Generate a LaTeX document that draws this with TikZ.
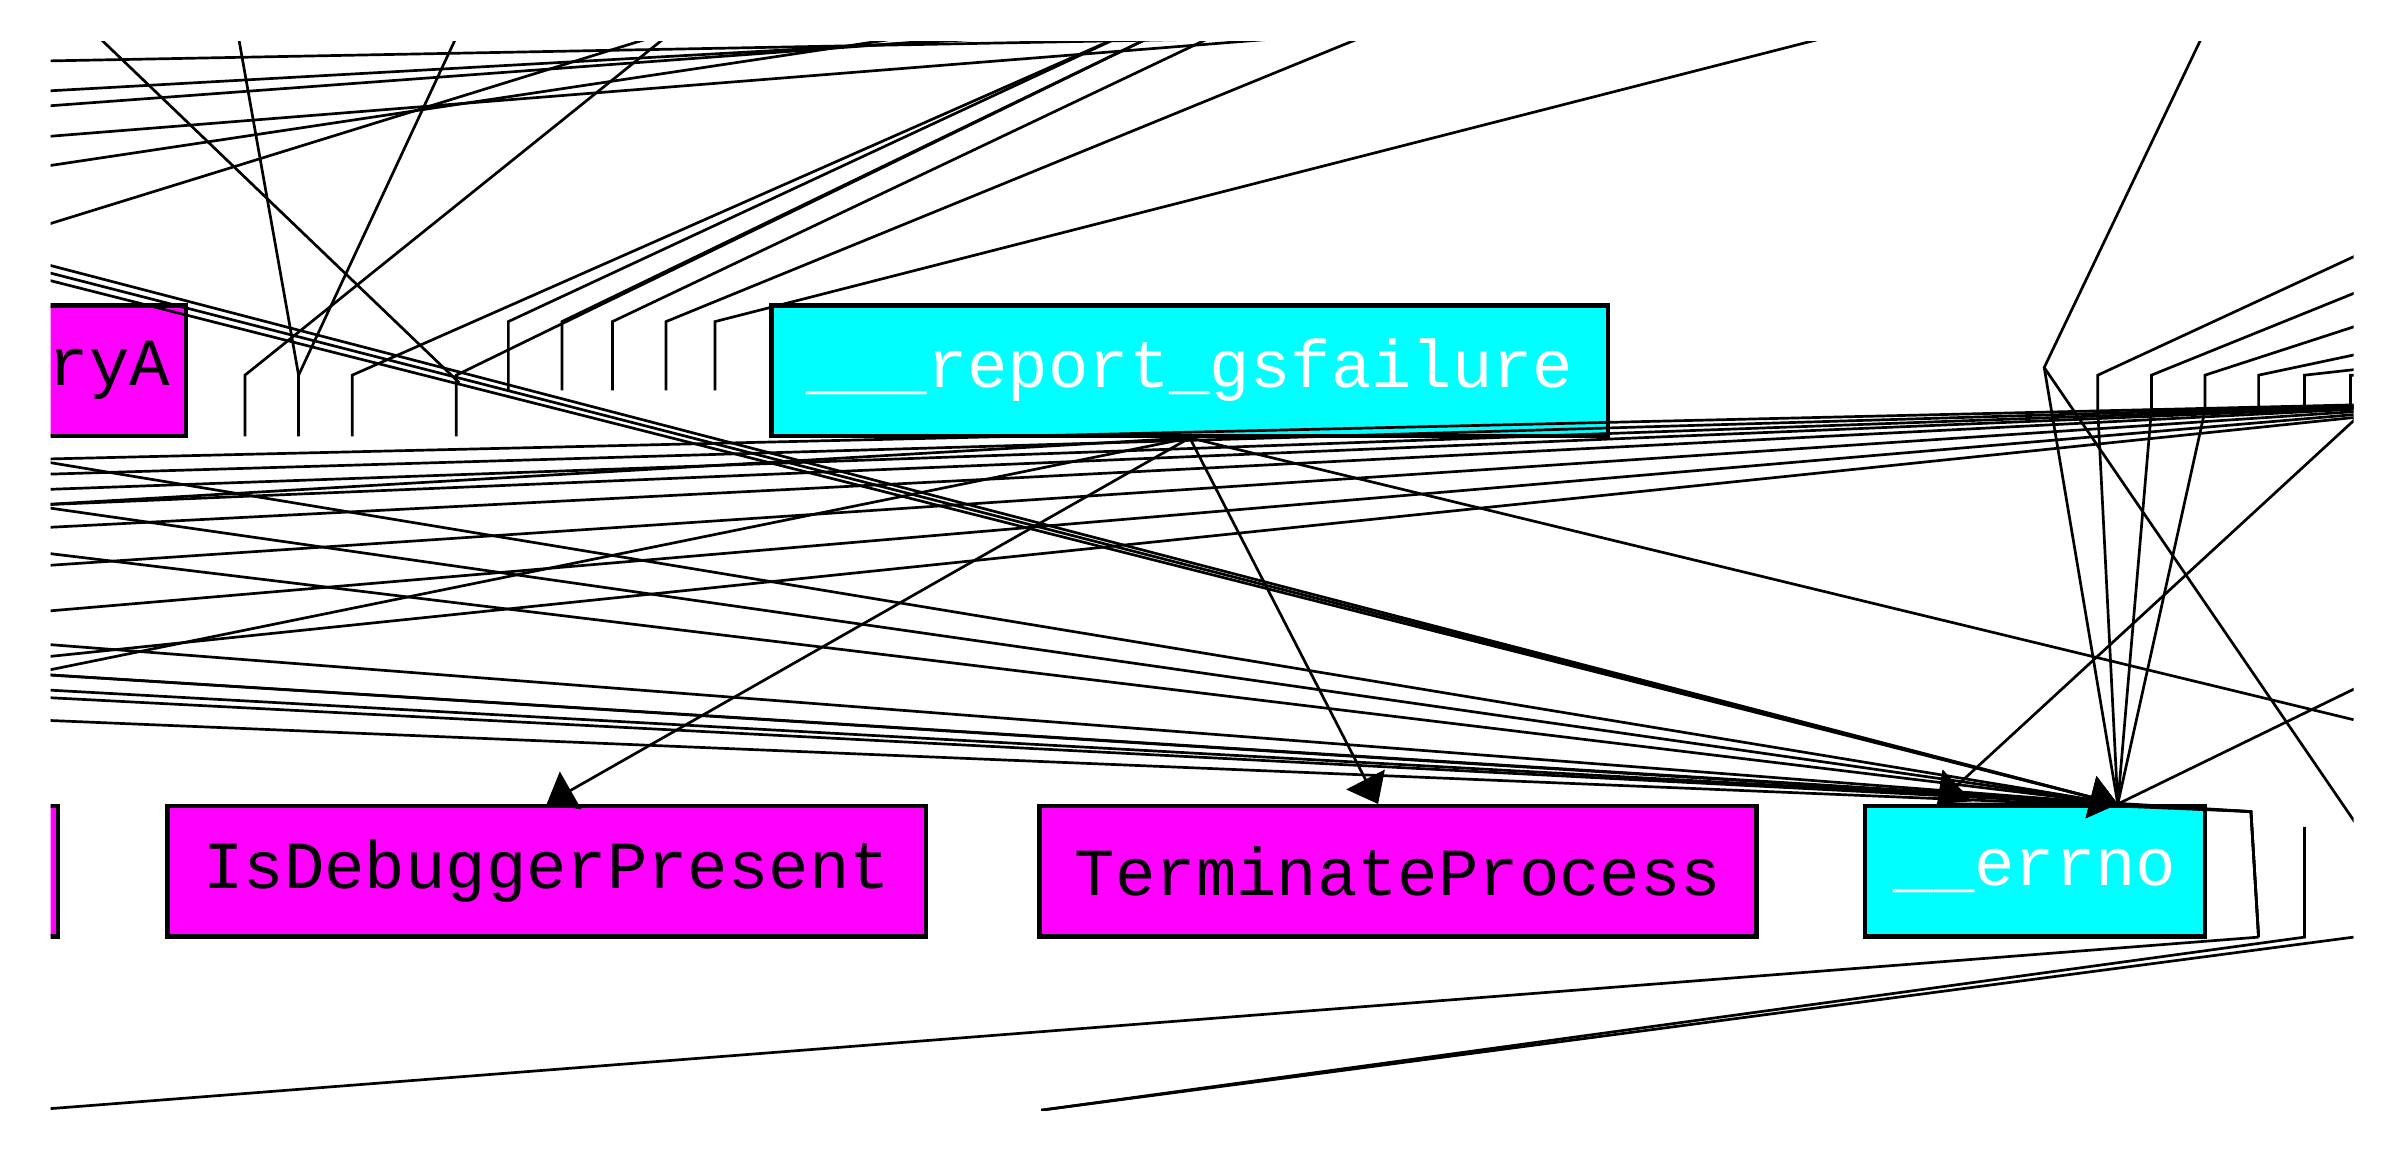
\documentclass[tikz,border=0pt]{standalone}
\usepackage{fontspec}
\newfontfamily\mono{Liberation Mono}
\usetikzlibrary{arrows.meta}
\usetikzlibrary{scopes}
\definecolor{extfill}{RGB}{255,0,255}
\definecolor{libfill}{RGB}{0,255,255}

\begin{document}
\begin{tikzpicture}[x=0.01cm,y=-0.01cm,
    fn/.style={draw=black,thick,rectangle,minimum height=0.85cm,inner sep=0pt,font=\mono\fontsize{12.5}{14}\selectfont},
    ext/.style={fn,fill=extfill},
    lib/.style={fn,fill=libfill,text=white},
    call/.style={-{Triangle[length=0.18cm,width=0.28cm]}},
    wire/.style={draw=black,line width=0.5pt}]
\useasboundingbox (0,0) rectangle (1568,763);
\begin{scope}
\clip (33,27) rectangle (1537,725);

% functions
\node[ext,minimum width=1.3cm,anchor=east] (loadlib) at (123,242) {\hspace{0.3cm}ryA};
\node[lib,minimum width=5.46cm] (gsfail) at (777,242) {\_\_\_report\_gsfailure};
\node[ext,minimum width=0.3cm] (prev) at (23,569) {};
\node[ext,minimum width=4.95cm] (isdbg) at (357,569) {IsDebuggerPresent};
\node[ext,minimum width=4.68cm] (term) at (913,569) {TerminateProcess};
\node[lib,minimum width=2.22cm] (errno) at (1329,569) {\_\_errno};

% off-frame ends
\coordinate (tl1) at (20,40);   \coordinate (tr1) at (1080,20);
\coordinate (tl2) at (20,60);   \coordinate (tr2) at (740,20);
\coordinate (tl3) at (20,90);   \coordinate (tr3) at (900,20);
\coordinate (tl4) at (20,150);  \coordinate (tr4) at (440,20);
\coordinate (tl5) at (20,70);   \coordinate (tr5) at (700,20);
\coordinate (tl6) at (20,110);  \coordinate (tr6) at (620,20);
\coordinate (bl1) at (20,725);  \coordinate (bl2) at (680,725);

% top tangle
\foreach \a/\b in {tl1/tr1,tl2/tr2,tl3/tr3,tl4/tr4,tl5/tr5,tl6/tr6}
    \draw[wire] (\a) -- (\b);
\draw[wire] (60,20) -- (300,250);
\draw[wire] (155,20) -- (195,245);
\foreach \x/\tx in {160/440,195/300,230/740,298/760}
    \draw[wire] (\x,285) -- (\x,245) -- (\tx,20);
\foreach \x/\tx in {332/740,367/760,400/800,435/900,467/1210}
    \draw[wire] (\x,255) -- (\x,210) -- (\tx,20);
\foreach \x/\ty in {1370/120,1405/150,1440/180,1475/210,1505/230,1535/250}
    \draw[wire] (\x,268) -- (\x,245) -- (1640,\ty);
\draw[wire] (1440,20) -- (1335,240) -- (1540,540);

% calls
\draw[call,wire] (gsfail.south) -- (isdbg.north);
\draw[call,wire] (gsfail.south) -- ([xshift=-0.13cm]term.north);
\draw[wire] (gsfail.south) -- (1537,470);
\draw[wire] (gsfail.south) -- (20,440);
\draw[wire] (gsfail.south) -- (20,330);
\foreach \y in {170,175,180} \draw[call,wire] (20,\y) -- ([xshift=0.54cm]errno.north);
\foreach \y in {300,330,360,420,440,450}
    \draw[wire] (20,\y) -- ([xshift=0.54cm]errno.north);
\foreach \y in {300,310,320,330,345,370,400,430}
    \draw[wire] (20,\y) -- (1640,262);
\foreach \y in {440,455,470} \draw[wire] (20,\y) -- (1470,530) -- (1475,612);
\draw[wire] (1335,240) -- ([xshift=0.54cm]errno.north);
\foreach \x in {1370,1405,1440} \draw[wire] (\x,268) -- ([xshift=0.54cm]errno.north);
\draw[wire] (1640,400) -- ([xshift=0.54cm]errno.north);
\draw[call,wire] (1640,180) -- ([xshift=-0.64cm]errno.north);
\draw[wire] ([xshift=-0.64cm]errno.north) -- (1340,525);
\draw[wire] (1505,540) -- (1505,612) -- (bl2);
\draw[wire] (1475,612) -- (bl1);
\draw[wire] (1537,612) -- (bl2);
\end{scope}
\end{tikzpicture}
\end{document}
